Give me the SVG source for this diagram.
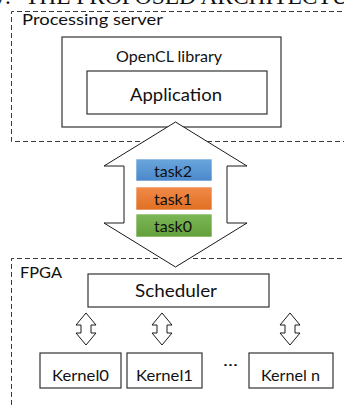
<svg xmlns="http://www.w3.org/2000/svg" width="344" height="405" viewBox="0 0 344 405">
<defs>
<style>
.dash{fill:none;stroke:#3a3a3a;stroke-width:1;stroke-dasharray:5,3}
.box{fill:#fff;stroke:#333;stroke-width:1.2}
.t{font-family:Lato,"Open Sans",sans-serif;fill:#111}
.ttl{font-family:"Liberation Serif",serif;fill:#111;font-size:23.4px}
.arrow{fill:#fff;stroke:#1a1a1a;stroke-width:1}
.task{stroke:#fff;stroke-width:0.6}
</style>
<linearGradient id="gb" x1="0" y1="0" x2="0" y2="1"><stop offset="0" stop-color="#6aa6dc"/><stop offset="1" stop-color="#4a88cc"/></linearGradient>
<linearGradient id="go" x1="0" y1="0" x2="0" y2="1"><stop offset="0" stop-color="#f18a4a"/><stop offset="1" stop-color="#e06f22"/></linearGradient>
<linearGradient id="gg" x1="0" y1="0" x2="0" y2="1"><stop offset="0" stop-color="#7cb757"/><stop offset="1" stop-color="#62a03a"/></linearGradient>
</defs>
<text class="ttl" x="-9" y="4">V.</text>
<text class="ttl" x="25" y="4">THE PROPOSED ARCHITECTURE</text>
<g id="server">
<path class="dash" d="M350,11.5 H11.5 V141.5 H350"/>
<text class="t" x="22" y="25" font-size="16" textLength="141" lengthAdjust="spacingAndGlyphs">Processing server</text>
</g>
<g id="opencl">
<rect class="box" x="62" y="37" width="219" height="90"/>
<text class="t" x="116" y="62" font-size="15" textLength="106" lengthAdjust="spacingAndGlyphs">OpenCL library</text>
</g>
<g id="application">
<rect class="box" x="87" y="71" width="180" height="43"/>
<text class="t" x="130" y="100.5" font-size="18" textLength="92" lengthAdjust="spacingAndGlyphs">Application</text>
</g>
<g id="fpga">
<path class="dash" d="M350,258.5 H11.5 V410"/>
<text class="t" x="20" y="278" font-size="16" textLength="42" lengthAdjust="spacingAndGlyphs">FPGA</text>
</g>
<g id="connectors">
<path class="arrow" d="M175.5,122 L247,166 L227,166 L227,223 L247,223 L175.5,267 L104,223 L124,223 L124,166 L104,166 Z"/>
<path class="arrow" d="M86,313 L96,325 L91,325 L91,333 L96,333 L86,345 L76,333 L81,333 L81,325 L76,325 Z"/>
<path class="arrow" d="M162,313 L172,325 L167,325 L167,333 L172,333 L162,345 L152,333 L157,333 L157,325 L152,325 Z"/>
<path class="arrow" d="M290,313 L300,325 L295,325 L295,333 L300,333 L290,345 L280,333 L285,333 L285,325 L280,325 Z"/>
</g>
<g id="task2">
<rect class="task" x="136" y="159" width="76" height="22" fill="url(#gb)"/>
<text class="t" x="154" y="176.5" font-size="16" textLength="38" lengthAdjust="spacingAndGlyphs">task2</text>
</g>
<g id="task1">
<rect class="task" x="136" y="187" width="76" height="23" fill="url(#go)"/>
<text class="t" x="154" y="204.5" font-size="16" textLength="38" lengthAdjust="spacingAndGlyphs">task1</text>
</g>
<g id="task0">
<rect class="task" x="136" y="214" width="76" height="23" fill="url(#gg)"/>
<text class="t" x="154" y="232" font-size="16" textLength="38" lengthAdjust="spacingAndGlyphs">task0</text>
</g>
<g id="scheduler">
<rect class="box" x="88" y="274" width="181" height="33"/>
<text class="t" x="135" y="296.5" font-size="17" textLength="82" lengthAdjust="spacingAndGlyphs">Scheduler</text>
</g>
<g id="kernel0">
<rect class="box" x="40" y="353" width="81" height="35"/>
<text class="t" x="52" y="380.5" font-size="15" textLength="57" lengthAdjust="spacingAndGlyphs">Kernel0</text>
</g>
<g id="kernel1">
<rect class="box" x="127" y="353" width="75" height="35"/>
<text class="t" x="136" y="380.5" font-size="15" textLength="57" lengthAdjust="spacingAndGlyphs">Kernel1</text>
</g>
<g id="ellipsis">
<text class="t" x="223" y="366" font-size="15" textLength="15" lengthAdjust="spacingAndGlyphs">...</text>
</g>
<g id="kerneln">
<rect class="box" x="249" y="353" width="84" height="35"/>
<text class="t" x="261" y="380.5" font-size="15" textLength="59" lengthAdjust="spacingAndGlyphs">Kernel n</text>
</g>
</svg>
